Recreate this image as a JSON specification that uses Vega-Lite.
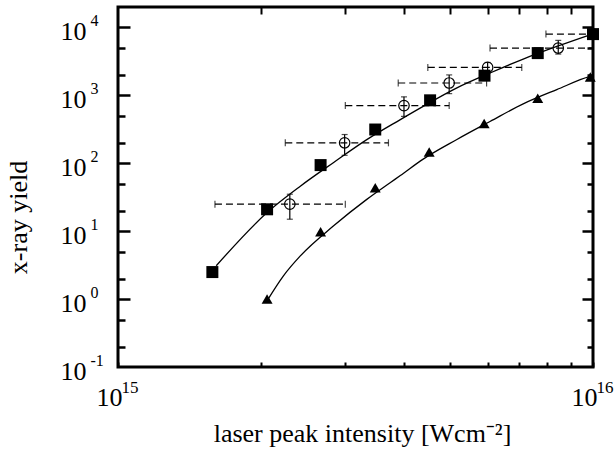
{
  "$schema": "https://vega.github.io/schema/vega-lite/v6.json",
  "width": 475,
  "height": 360,
  "autosize": "none",
  "padding": {"left": 118, "top": 7, "right": 22, "bottom": 87},
  "background": "white",
  "config": {"view": {"stroke": "black", "strokeWidth": 3}, "font": "Liberation Serif"},
  "datasets": {
    "sq": [
      {"x": 1.58e15, "y": 2.5}, {"x": 2.06e15, "y": 21}, {"x": 2.67e15, "y": 94}, {"x": 3.48e15, "y": 314},
      {"x": 4.54e15, "y": 845}, {"x": 5.91e15, "y": 1950}, {"x": 7.65e15, "y": 4190}, {"x": 1e16, "y": 7980}
    ],
    "tri": [
      {"x": 2.06e15, "y": 1.0}, {"x": 2.67e15, "y": 9.8}, {"x": 3.48e15, "y": 43.7}, {"x": 4.52e15, "y": 146},
      {"x": 5.9e15, "y": 384}, {"x": 7.65e15, "y": 904}, {"x": 9.87e15, "y": 1862}
    ],
    "circ": [
      {"x": 2.3e15, "y": 25, "xlo": 1.6e15, "xhi": 3.01e15, "ylo": 15, "yhi": 35},
      {"x": 3.0e15, "y": 200, "xlo": 2.25e15, "xhi": 3.71e15, "ylo": 131, "yhi": 265},
      {"x": 4.0e15, "y": 706, "xlo": 3.01e15, "xhi": 4.98e15, "ylo": 490, "yhi": 950},
      {"x": 4.98e15, "y": 1520, "xlo": 3.89e15, "xhi": 5.97e15, "ylo": 1060, "yhi": 2000},
      {"x": 6.0e15, "y": 2580, "xlo": 4.49e15, "xhi": 7.08e15, "ylo": 2150, "yhi": 3050},
      {"x": 8.45e15, "y": 4966, "xlo": 6.07e15, "xhi": 1e16, "ylo": 4050, "yhi": 6450},
      {"x": 1e16, "y": 7980, "xlo": 7.96e15, "xhi": 1e16, "ylo": 6800, "yhi": 9300}
    ],
    "fitA": [
      {"x": 1.61e15, "y": 3.1}, {"x": 2.06e15, "y": 18.8}, {"x": 2.42e15, "y": 46}, {"x": 2.84e15, "y": 102},
      {"x": 3.34e15, "y": 223}, {"x": 3.93e15, "y": 440}, {"x": 4.39e15, "y": 689}, {"x": 5.17e15, "y": 1290},
      {"x": 6.07e15, "y": 2133}, {"x": 7.13e15, "y": 3423}, {"x": 8.39e15, "y": 5248}, {"x": 9.86e15, "y": 7786},
      {"x": 1e16, "y": 8050}
    ],
    "fitB": [
      {"x": 2.07e15, "y": 1.0}, {"x": 2.23e15, "y": 2.2}, {"x": 2.42e15, "y": 4.32}, {"x": 2.84e15, "y": 11.9}, {"x": 3.34e15, "y": 29.4},
      {"x": 3.74e15, "y": 51.7}, {"x": 3.93e15, "y": 66}, {"x": 4.39e15, "y": 115}, {"x": 5.17e15, "y": 224},
      {"x": 6.07e15, "y": 412}, {"x": 7.13e15, "y": 750}, {"x": 8.39e15, "y": 1216}, {"x": 9.86e15, "y": 1900},
      {"x": 1e16, "y": 1950}
    ]
  },
  "resolve": {"axis": {"x": "independent", "y": "independent"}},
  "layer": [
    {
      "data": {"name": "circ"},
      "mark": {"type": "rule", "color": "black", "strokeWidth": 1.2, "strokeDash": [7, 4]},
      "encoding": {
        "x": {"field": "xlo", "type": "quantitative", "scale": {"type": "log", "domain": [1e15, 1e16], "nice": false}, "axis": null},
        "x2": {"field": "xhi"},
        "y": {"field": "y", "type": "quantitative", "scale": {"type": "log", "domain": [0.1, 20000], "nice": false}, "axis": null}
      }
    },
    {
      "data": {"name": "circ"},
      "mark": {"type": "tick", "orient": "vertical", "color": "black", "size": 7, "thickness": 1.2},
      "encoding": {
        "x": {"field": "xlo", "type": "quantitative", "scale": {"type": "log", "domain": [1e15, 1e16], "nice": false}, "axis": null},
        "y": {"field": "y", "type": "quantitative", "scale": {"type": "log", "domain": [0.1, 20000], "nice": false}, "axis": null}
      }
    },
    {
      "data": {"name": "circ"},
      "mark": {"type": "tick", "orient": "vertical", "color": "black", "size": 7, "thickness": 1.2},
      "encoding": {
        "x": {"field": "xhi", "type": "quantitative", "scale": {"type": "log", "domain": [1e15, 1e16], "nice": false}, "axis": null},
        "y": {"field": "y", "type": "quantitative", "scale": {"type": "log", "domain": [0.1, 20000], "nice": false}, "axis": null}
      }
    },
    {
      "data": {"name": "circ"},
      "mark": {"type": "rule", "color": "black", "strokeWidth": 1.2},
      "encoding": {
        "x": {"field": "x", "type": "quantitative", "scale": {"type": "log", "domain": [1e15, 1e16], "nice": false}, "axis": null},
        "y": {"field": "ylo", "type": "quantitative", "scale": {"type": "log", "domain": [0.1, 20000], "nice": false}, "axis": null},
        "y2": {"field": "yhi"}
      }
    },
    {
      "data": {"name": "circ"},
      "mark": {"type": "tick", "orient": "horizontal", "color": "black", "size": 6, "thickness": 1.2},
      "encoding": {
        "x": {"field": "x", "type": "quantitative", "scale": {"type": "log", "domain": [1e15, 1e16], "nice": false}, "axis": null},
        "y": {"field": "ylo", "type": "quantitative", "scale": {"type": "log", "domain": [0.1, 20000], "nice": false}, "axis": null}
      }
    },
    {
      "data": {"name": "circ"},
      "mark": {"type": "tick", "orient": "horizontal", "color": "black", "size": 6, "thickness": 1.2},
      "encoding": {
        "x": {"field": "x", "type": "quantitative", "scale": {"type": "log", "domain": [1e15, 1e16], "nice": false}, "axis": null},
        "y": {"field": "yhi", "type": "quantitative", "scale": {"type": "log", "domain": [0.1, 20000], "nice": false}, "axis": null}
      }
    },
    {
      "data": {"name": "fitA"},
      "mark": {"type": "line", "color": "black", "strokeWidth": 1.3, "interpolate": "monotone"},
      "encoding": {
        "x": {"field": "x", "type": "quantitative", "scale": {"type": "log", "domain": [1e15, 1e16], "nice": false},
          "axis": {"orient": "bottom", "values": [1e15, 2e15, 3e15, 4e15, 5e15, 6e15, 7e15, 8e15, 9e15, 1e16],
            "domain": false, "grid": false, "tickSize": -5, "tickWidth": 2, "tickColor": "black",
            "labelExpr": "(datum.value < 1.5e15 || datum.value > 9.5e15) ? '10' : ''",
            "labelFont": "Liberation Serif", "labelFontSize": 26, "labelColor": "black", "labelPadding": 22,
            "labelAlign": "right", "labelOffset": 4,
            "labelBaseline": "top", "labelFlush": false, "labelOverlap": false, "labelBound": false,
            "title": "laser peak intensity [Wcm⁻²]", "titleFont": "Liberation Serif", "titleFontSize": 26,
            "titleFontWeight": "normal", "titleColor": "black", "titleX": 244, "titleY": 74,
            "titleBaseline": "alphabetic", "titleAlign": "center"}},
        "y": {"field": "y", "type": "quantitative", "scale": {"type": "log", "domain": [0.1, 20000], "nice": false},
          "axis": {"orient": "left", "values": [0.1, 1, 10, 100, 1000, 10000], "ticks": false, "domain": false, "grid": false,
            "labelExpr": "'10'", "labelAlign": "right",
            "labelFont": "Liberation Serif", "labelFontSize": 26, "labelColor": "black", "labelPadding": 32,
            "labelBaseline": "middle", "labelOffset": 4, "labelFlush": false, "labelOverlap": false, "labelBound": false,
            "title": "x-ray yield", "titleFont": "Liberation Serif", "titleFontSize": 26, "titleFontWeight": "normal",
            "titleColor": "black", "titleX": -100, "titleY": 210, "titleBaseline": "middle", "titleAlign": "center", "titleAngle": -90}}
      }
    },
    {
      "data": {"name": "fitB"},
      "mark": {"type": "line", "color": "black", "strokeWidth": 1.3, "interpolate": "monotone"},
      "encoding": {
        "x": {"field": "x", "type": "quantitative", "scale": {"type": "log", "domain": [1e15, 1e16], "nice": false},
          "axis": {"orient": "top", "values": [2e15, 3e15, 4e15, 5e15, 6e15, 7e15, 8e15, 9e15], "labels": false,
            "domain": false, "grid": false, "tickSize": -7, "tickWidth": 2, "tickColor": "black", "title": null}},
        "y": {"field": "y", "type": "quantitative", "scale": {"type": "log", "domain": [0.1, 20000], "nice": false},
          "axis": {"orient": "left", "values": [0.2, 0.5, 1, 2, 5, 10, 20, 50, 100, 200, 500, 1000, 2000, 5000, 10000],
            "labels": false, "domain": false, "grid": false, "tickWidth": 2.5, "tickColor": "black", "title": null,
            "tickSize": {"condition": {"test": "abs(log(datum.value)/LN10 - round(log(datum.value)/LN10)) < 0.01", "value": -12}, "value": -7}}}
      }
    },
    {
      "data": {"name": "circ"},
      "mark": {"type": "point", "shape": "circle", "filled": false, "color": "black", "strokeWidth": 1.2, "size": 110, "opacity": 1},
      "encoding": {
        "x": {"field": "x", "type": "quantitative", "scale": {"type": "log", "domain": [1e15, 1e16], "nice": false}, "axis": null},
        "y": {"field": "y", "type": "quantitative", "scale": {"type": "log", "domain": [0.1, 20000], "nice": false},
          "axis": {"orient": "left", "values": [0.1, 1, 10, 100, 1000, 10000], "ticks": false, "domain": false, "grid": false,
            "labelExpr": "'' + round(log(datum.value)/LN10)", "labelAlign": "left",
            "labelFont": "Liberation Serif", "labelFontSize": 16, "labelColor": "black", "labelPadding": 28,
            "labelBaseline": "alphabetic", "labelOffset": -2, "labelFlush": false, "labelOverlap": false, "labelBound": false,
            "title": null}}
      }
    },
    {
      "data": {"name": "tri"},
      "mark": {"type": "point", "shape": "triangle-up", "filled": true, "color": "black", "size": 120, "opacity": 1},
      "encoding": {
        "x": {"field": "x", "type": "quantitative", "scale": {"type": "log", "domain": [1e15, 1e16], "nice": false},
          "axis": {"orient": "bottom", "values": [1e15, 1e16], "ticks": false, "domain": false, "grid": false,
            "labelExpr": "datum.value < 1.5e15 ? '15' : '16'", "labelAlign": "left", "labelOffset": 3,
            "labelFont": "Liberation Serif", "labelFontSize": 17, "labelColor": "black", "labelPadding": 12,
            "labelBaseline": "top", "labelFlush": false, "labelOverlap": false, "labelBound": false, "title": null}},
        "y": {"field": "y", "type": "quantitative", "scale": {"type": "log", "domain": [0.1, 20000], "nice": false}, "axis": null}
      }
    },
    {
      "data": {"name": "sq"},
      "mark": {"type": "point", "shape": "square", "filled": true, "color": "black", "size": 144, "opacity": 1},
      "encoding": {
        "x": {"field": "x", "type": "quantitative", "scale": {"type": "log", "domain": [1e15, 1e16], "nice": false}, "axis": null},
        "y": {"field": "y", "type": "quantitative", "scale": {"type": "log", "domain": [0.1, 20000], "nice": false},
          "axis": {"orient": "right", "values": [0.2, 0.5, 1, 2, 5, 10, 20, 50, 100, 200, 500, 1000, 2000, 5000, 10000],
            "labels": false, "domain": false, "grid": false, "tickWidth": 2.5, "tickColor": "black", "title": null,
            "tickSize": {"condition": {"test": "abs(log(datum.value)/LN10 - round(log(datum.value)/LN10)) < 0.01", "value": -11}, "value": -6}}}
      }
    }
  ]
}
